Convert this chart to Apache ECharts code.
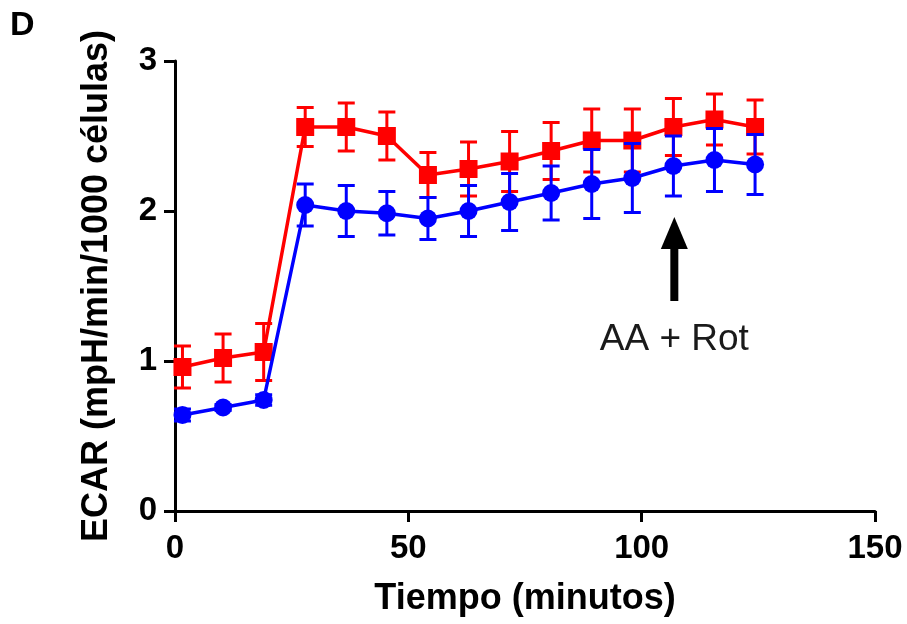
<!DOCTYPE html>
<html>
<head>
<meta charset="utf-8">
<script src="https://cdn.jsdelivr.net/npm/echarts@6/dist/echarts.min.js"></script>
<style>
  html, body { margin: 0; padding: 0; background: #fff; }
  #chart { width: 907px; height: 624px; }
</style>
</head>
<body>
<div id="chart"></div>
<script>
// minutes
const times = [1.6, 10.3, 19.0, 27.9, 36.7, 45.4, 54.2, 62.9, 71.7, 80.6, 89.3, 98.0, 106.8, 115.6, 124.3];

const redMean = [0.96, 1.02, 1.06, 2.56, 2.56, 2.50, 2.24, 2.28, 2.33, 2.40, 2.47, 2.47, 2.56, 2.61, 2.56];
const redErr = [0.14, 0.16, 0.19, 0.13, 0.16, 0.16, 0.15, 0.18, 0.20, 0.19, 0.21, 0.21, 0.19, 0.17, 0.18];

const blueMean = [0.64, 0.69, 0.74, 2.04, 2.00, 1.985, 1.95, 2.00, 2.06, 2.12, 2.18, 2.22, 2.30, 2.34, 2.31];
const blueErr = [0.04, 0.02, 0.035, 0.14, 0.17, 0.145, 0.14, 0.17, 0.19, 0.18, 0.23, 0.23, 0.20, 0.21, 0.20];

const xTicks = [0, 50, 100, 150];
const yTicks = [0, 1, 2, 3];

// annotation: arrow at AA + Rot injection
const arrowTime = 107;
const arrowTop = 1.96;
const arrowBottom = 1.40;
const arrowLabelY = 1.14;
const arrowLabel = 'AA + Rot';

const FONT = 'Arial, "Liberation Sans", sans-serif';

function pairs(xs, ys) {
  let out = [];
  for (var i = 0; i < xs.length; i++) {
    out.push([xs[i], ys[i]]);
  }
  return out;
}

function errData(xs, ys, es) {
  let out = [];
  for (var i = 0; i < xs.length; i++) {
    out.push([xs[i], ys[i] - es[i], ys[i] + es[i]]);
  }
  return out;
}

function errorBarSeries(name, color, data, z) {
  return {
    name: name,
    type: 'custom',
    z: z,
    silent: true,
    data: data,
    encode: { x: 0, y: [1, 2] },
    renderItem: function (params, api) {
      let lo = api.coord([api.value(0), api.value(1)]);
      let hi = api.coord([api.value(0), api.value(2)]);
      let half = 8.5;
      let style = { stroke: color, lineWidth: 3 };
      return {
        type: 'group',
        children: [
          { type: 'line', shape: { x1: lo[0], y1: lo[1], x2: hi[0], y2: hi[1] }, style: style },
          { type: 'line', shape: { x1: lo[0] - half, y1: lo[1], x2: lo[0] + half, y2: lo[1] }, style: style },
          { type: 'line', shape: { x1: hi[0] - half, y1: hi[1], x2: hi[0] + half, y2: hi[1] }, style: style }
        ]
      };
    }
  };
}

var myChart = echarts.init(document.getElementById('chart'), null, { renderer: 'canvas' });

var option = {
  animation: false,
  backgroundColor: '#fff',
  textStyle: { fontFamily: FONT },
  grid: { left: 175, top: 61, width: 700, height: 450, containLabel: false },
  graphic: [
    {
      type: 'text',
      left: 10,
      top: 9,
      style: { text: 'D', font: 'bold 34px ' + FONT, fill: '#000' }
    }
  ],
  xAxis: {
    type: 'value',
    min: xTicks[0],
    max: xTicks[xTicks.length - 1],
    interval: 50,
    name: 'Tiempo (minutos)',
    nameLocation: 'middle',
    nameGap: 70,
    nameTextStyle: { fontSize: 36, fontWeight: 'bold', color: '#000', fontFamily: FONT },
    axisLine: { show: true, onZero: false, lineStyle: { color: '#000', width: 3 } },
    axisTick: { show: true, length: 11, lineStyle: { color: '#000', width: 3 } },
    axisLabel: { fontSize: 33, fontWeight: 'bold', color: '#000', margin: 21, fontFamily: FONT },
    splitLine: { show: false }
  },
  yAxis: {
    type: 'value',
    min: yTicks[0],
    max: yTicks[yTicks.length - 1],
    interval: 1,
    name: 'ECAR (mpH/min/1000 células)',
    nameLocation: 'middle',
    nameGap: 60,
    nameTextStyle: { fontSize: 36, fontWeight: 'bold', color: '#000', fontFamily: FONT },
    axisLine: { show: true, onZero: false, lineStyle: { color: '#000', width: 3 } },
    axisTick: { show: true, length: 11, lineStyle: { color: '#000', width: 3 } },
    axisLabel: { fontSize: 33, fontWeight: 'bold', color: '#000', margin: 18, fontFamily: FONT },
    splitLine: { show: false }
  },
  series: [
    errorBarSeries('redErr', '#ff0000', errData(times, redMean, redErr), 2),
    {
      name: 'red',
      type: 'line',
      z: 3,
      data: pairs(times, redMean),
      symbol: 'rect',
      symbolSize: 18,
      itemStyle: { color: '#ff0000' },
      lineStyle: { color: '#ff0000', width: 3.5 }
    },
    errorBarSeries('blueErr', '#0000ff', errData(times, blueMean, blueErr), 4),
    {
      name: 'blue',
      type: 'line',
      z: 5,
      data: pairs(times, blueMean),
      symbol: 'circle',
      symbolSize: 18,
      itemStyle: { color: '#0000ff' },
      lineStyle: { color: '#0000ff', width: 3.5 }
    },
    {
      name: 'annotation',
      type: 'custom',
      z: 6,
      silent: true,
      data: [[arrowTime, arrowTop, arrowBottom, arrowLabelY]],
      renderItem: function (params, api) {
        let tip = api.coord([api.value(0), api.value(1)]);
        let tail = api.coord([api.value(0), api.value(2)]);
        let lab = api.coord([api.value(0), api.value(3)]);
        let headH = 32;
        let headHalf = 13.5;
        return {
          type: 'group',
          children: [
            {
              type: 'polygon',
              shape: { points: [[tip[0], tip[1]], [tip[0] - headHalf, tip[1] + headH], [tip[0] + headHalf, tip[1] + headH]] },
              style: { fill: '#000' }
            },
            {
              type: 'rect',
              shape: { x: tip[0] - 4, y: tip[1] + headH - 2, width: 8, height: tail[1] - tip[1] - headH + 2 },
              style: { fill: '#000' }
            },
            {
              type: 'text',
              x: lab[0],
              y: lab[1],
              style: {
                text: arrowLabel,
                font: '37px ' + FONT,
                fill: '#1a1a1a',
                align: 'center',
                verticalAlign: 'middle'
              }
            }
          ]
        };
      }
    }
  ]
};

myChart.setOption(option);
</script>
</body>
</html>
